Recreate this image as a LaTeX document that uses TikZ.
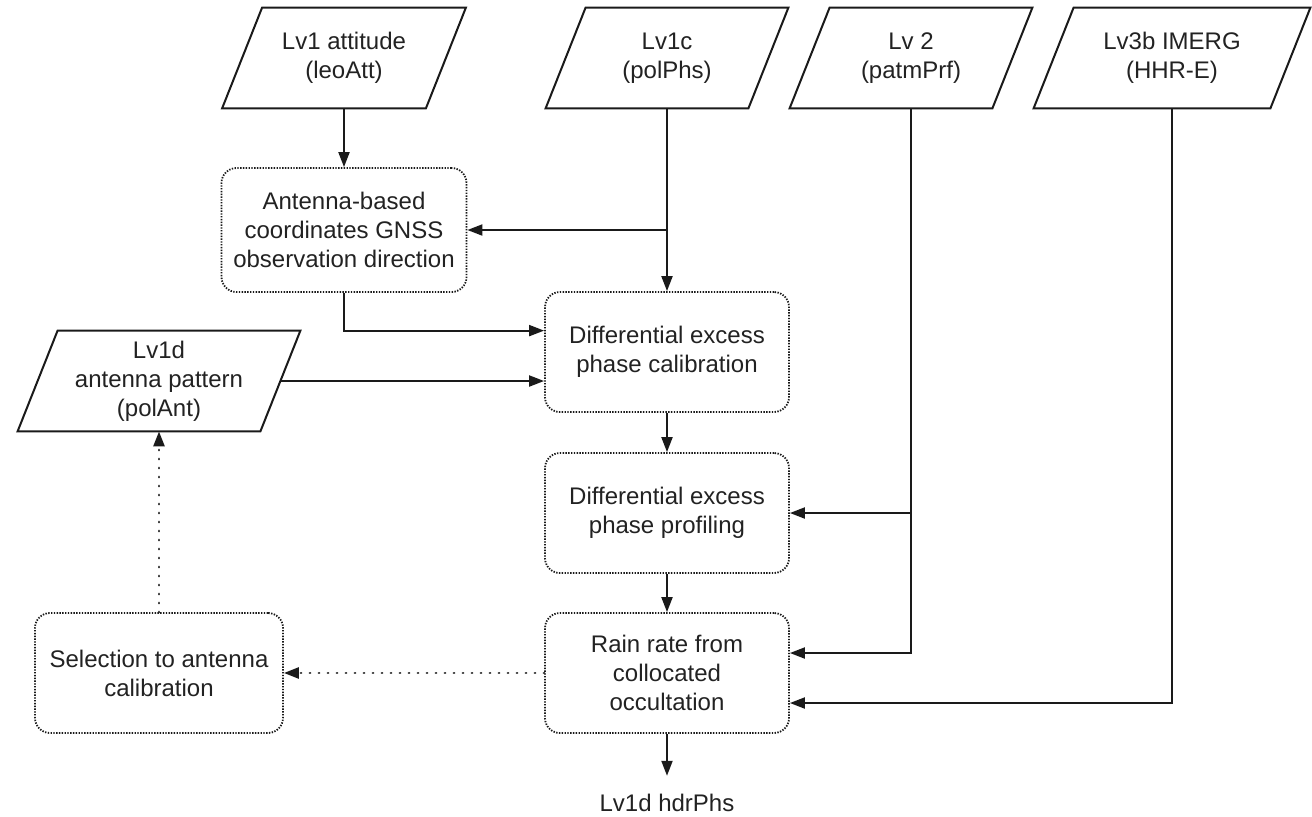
\documentclass[tikz,border=0pt]{standalone}
\usepackage{fontspec}
\setmainfont{Liberation Sans}
\usetikzlibrary{arrows.meta}
\definecolor{txt}{HTML}{222222}
\definecolor{ln}{HTML}{1A1A1A}
\begin{document}
\begin{tikzpicture}[x=0.5pt,y=-0.5pt,
  every node/.style={font=\fontsize{12}{14.5}\selectfont, text=txt, align=center, inner sep=0pt},
  para/.style={minimum height=50pt},
  proc/.style={draw=ln, rounded corners=7.5pt, dash pattern=on 0.7pt off 0.7pt, line width=0.9pt, minimum width=122pt, minimum height=60pt},
  arr/.style={draw=ln, line width=1pt, -{Triangle[length=7.5pt,width=5.5pt]}},
  darr/.style={draw=ln, line width=1.3pt, dash pattern=on 0.1pt off 4.4pt, line cap=round, -{Triangle[length=7.5pt,width=5.5pt]}},
  paraline/.style={draw=ln, line width=1pt, line join=miter}]
\useasboundingbox (0,0) rectangle (1312,816);
% input parallelograms
\node[para, minimum width=101.5pt] (p1) at (344,58) {Lv1 attitude\\(leoAtt)};
\node[para, minimum width=101pt] (p2) at (667,58) {Lv1c\\(polPhs)};
\node[para, minimum width=101pt] (p3) at (911,58) {Lv 2\\(patmPrf)};
\node[para, minimum width=118pt] (p4) at (1172,58) {Lv3b IMERG\\(HHR-E)};
\node[para, minimum width=121pt] (p5) at (159,381) {Lv1d\\antenna pattern\\(polAnt)};
\foreach \n in {p1,p2,p3,p4,p5}
  \draw[paraline] ([xshift=-10pt]\n.south west) -- ([xshift=-10pt]\n.south east) -- ([xshift=10pt]\n.north east) -- ([xshift=10pt]\n.north west) -- cycle;
% process boxes
\node[proc, minimum width=122.5pt, minimum height=62pt] (ant) at (344,230) {Antenna-based\\coordinates GNSS\\observation direction};
\node[proc] (dcal) at (667,352) {Differential excess\\phase calibration};
\node[proc] (dprof) at (667,513) {Differential excess\\phase profiling};
\node[proc] (rain) at (667,673) {Rain rate from\\collocated\\occultation};
\node[proc, minimum width=124pt] (sel) at (159,673) {Selection to antenna\\calibration};
\node (out) at (667,803) {Lv1d hdrPhs};
% connectors
\draw[arr] (p1.south) -- (ant.north);
\draw[arr] (p2.south) -- (dcal.north);
\draw[arr] (p2.south |- ant.east) -- (ant.east);
\draw[arr] (ant.south) |- (dcal.west |- p5.north);
\draw[arr] (p5.east) -- (p5.east -| dcal.west);
\draw[arr] (dcal.south) -- (dprof.north);
\draw[arr] (dprof.south) -- (rain.north);
\draw[arr] (p3.south) |- ([yshift=10pt]rain.east);
\draw[arr] (p3.south |- dprof.east) -- (dprof.east);
\draw[arr] (p4.south) |- ([yshift=-15pt]rain.east);
\draw[arr, shorten >=9pt] (rain.south) -- (out.north);
\draw[darr] (rain.west) -- (sel.east);
\draw[darr] (sel.north) -- (p5.south);
\end{tikzpicture}
\end{document}
